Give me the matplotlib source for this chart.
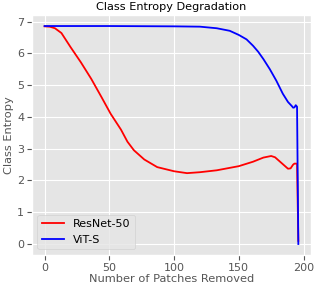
import matplotlib
matplotlib.use("Agg")
import matplotlib.pyplot as plt

# values
resnet_x = [0, 4, 8, 13, 20, 28, 36, 44, 51, 59, 64, 69, 77, 87, 100, 110, 120, 133,
            150, 161, 169, 175, 178, 183, 188, 190, 192, 193, 195, 196]
resnet_y = [6.85, 6.84, 6.79, 6.64, 6.2, 5.72, 5.2, 4.62, 4.1, 3.6, 3.22, 2.95, 2.66,
            2.42, 2.29, 2.23, 2.26, 2.32, 2.45, 2.59, 2.72, 2.77, 2.73, 2.55, 2.37,
            2.38, 2.5, 2.53, 2.53, 0.1]

vit_x = [0, 50, 100, 120, 133, 143, 150, 156, 161, 165, 169, 174, 179, 184, 188,
         191, 192, 193, 194, 195, 196]
vit_y = [6.86, 6.86, 6.85, 6.84, 6.79, 6.71, 6.58, 6.44, 6.24, 6.05, 5.82, 5.5, 5.14,
         4.73, 4.47, 4.34, 4.29, 4.3, 4.37, 4.32, 0.0]

plt.style.use("ggplot")
fig, ax = plt.subplots(figsize=(3.19, 2.91), dpi=100)
ax.plot(resnet_x, resnet_y, color="red", lw=1.3, label="ResNet-50")
ax.plot(vit_x, vit_y, color="blue", lw=1.3, label="ViT-S")
ax.set_title("Class Entropy Degradation", fontsize=8.1, pad=4)
ax.set_xlabel("Number of Patches Removed", fontsize=8.2, labelpad=1)
ax.set_ylabel("Class Entropy", fontsize=8.2, labelpad=2)
ax.set_xticks([0, 50, 100, 150, 200])
ax.set_yticks(range(8))
ax.tick_params(labelsize=8, pad=2)
ax.legend(loc="lower left", fontsize=8)
fig.subplots_adjust(left=0.1, right=0.975, top=0.948, bottom=0.124)
fig.savefig("out.png")
